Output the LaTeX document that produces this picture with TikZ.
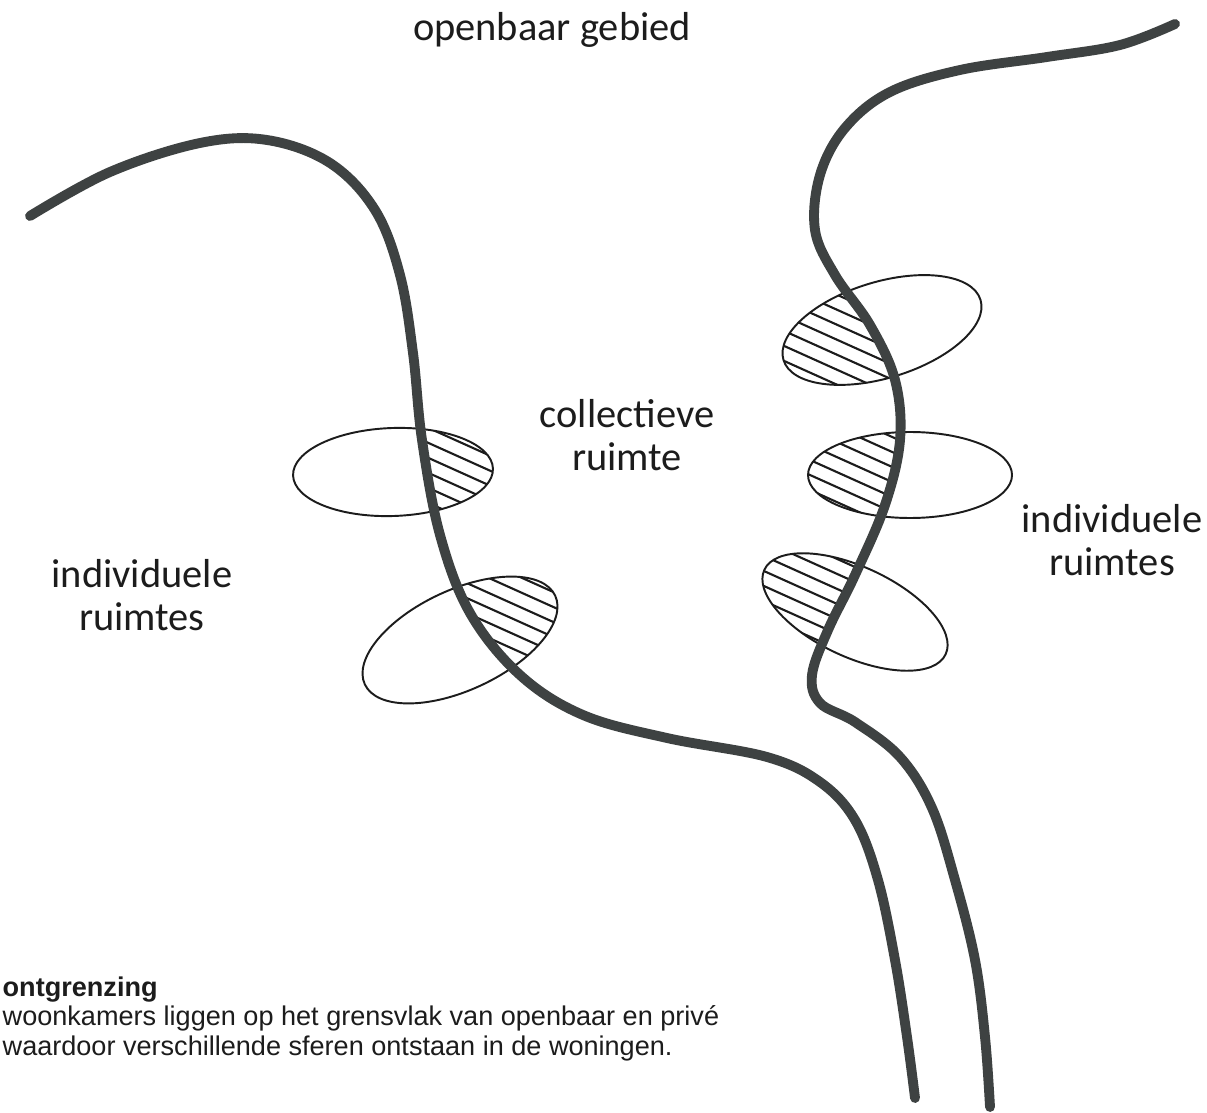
\documentclass[tikz,border=0pt]{standalone}
\usepackage{fontspec}
\setmainfont{Carlito}
\newfontfamily\arialfont{Liberation Sans}

\definecolor{wallgray}{RGB}{62,66,66}
\definecolor{inkgray}{RGB}{28,28,28}

\tikzset{
  wall/.style={line width=2.8pt, wallgray, line cap=round, line join=round},
  room/.style={line width=0.55pt, inkgray},
  hatch/.style={line width=0.6pt, inkgray},
  area/.style={font=\fontsize{11.5}{12.2}\selectfont, align=center, text=inkgray, inner sep=0pt, anchor=base},
  caption/.style={font=\arialfont\fontsize{7.7}{8.3}\selectfont, align=left, text=inkgray, inner sep=0pt, anchor=base west}
}

% the two walls, traced in pixels (y runs down)
\newcommand{\leftwall}{plot[smooth, tension=0.6] coordinates {(30,216) (110,172) (200,143) (267,140) (330,163) (375,210) (400,275) (413,353) (422,440) (440,535) (470,613) (520,675) (583,715) (667,738) (767,757) (820,782) (855,820) (878,880) (895,960) (907,1037) (915,1098)}}
\newcommand{\rightwall}{plot[smooth, tension=0.6] coordinates {(1175,24) (1120,45) (1047,57) (960,70) (890,92) (845,128) (820,175) (815,230) (835,275) (870,325) (895,380) (900,440) (885,505) (855,575) (828,630) (812,675) (820,703) (855,722) (900,757) (932,808) (955,880) (975,960) (985,1037) (990,1107)}}

% room: centre x, centre y, x radius, y radius, angle
\newcommand{\room}[5]{\draw[room, rotate around={#5:(#1,#2)}] (#1,#2) ellipse (#3 and #4);}
\newcommand{\roomhatch}[5]{%
  \begin{scope}
    \clip[rotate around={#5:(#1,#2)}] (#1,#2) ellipse (#3 and #4);
    \foreach \k in {-11,...,11}
      \draw[hatch] ({#1-160}, {#2+\k*15-72}) -- ({#1+160}, {#2+\k*15+72});
  \end{scope}}

\begin{document}
\begin{tikzpicture}[x=0.01cm, y=-0.01cm]
\fill[white] (0,0) rectangle (1207,1113);
\useasboundingbox (0,0) rectangle (1207,1113);

%%%%%%%%%%%% Hatching
\begin{scope}
  \clip \leftwall -- (1207,1113) -- (1207,0) -- (30,0) -- cycle;
  \roomhatch{393}{472}{100}{44}{2}
  \roomhatch{460}{640}{105}{50}{25}
\end{scope}
\begin{scope}
  \clip \rightwall -- (0,1113) -- (0,0) -- (1175,0) -- cycle;
  \roomhatch{882}{330}{103}{48}{17}
  \roomhatch{910}{475}{102}{43}{0}
  \roomhatch{855}{612}{100}{45}{-25}
\end{scope}

%%%%%%%%%%%% Rooms
\room{393}{472}{100}{44}{2}
\room{460}{640}{105}{50}{25}
\room{882}{330}{103}{48}{17}
\room{910}{475}{102}{43}{0}
\room{855}{612}{100}{45}{-25}

%%%%%%%%%%%% Walls
\draw[wall] \leftwall;
\draw[wall] \rightwall;

%%%%%%%%%%%% Labels
\node[area] (public) at (552,41) {openbaar gebied};
\node[area] (shared) at (627,470) {collectieve\\ruimte};
\node[area] (privleft) at (142,630) {individuele\\ruimtes};
\node[area] (privright) at (1112,575) {individuele\\ruimtes};

\node[caption] (note) at (2,1055) {\textbf{ontgrenzing}\\woonkamers liggen op het grensvlak van openbaar en priv\'e\\waardoor verschillende sferen ontstaan in de woningen.};
\end{tikzpicture}
\end{document}
